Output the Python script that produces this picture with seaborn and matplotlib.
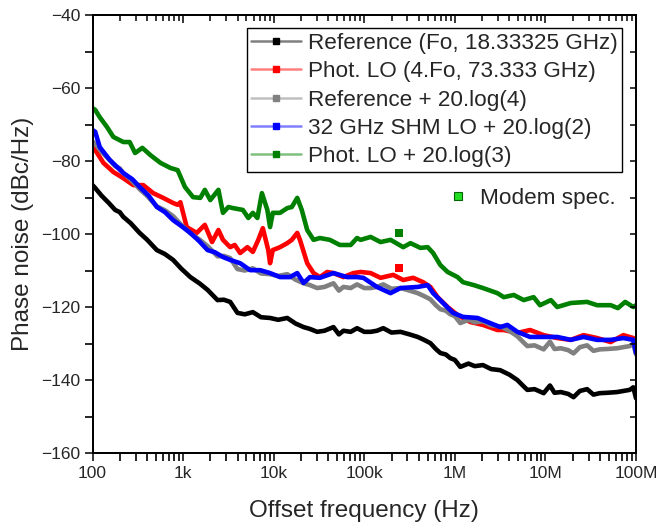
import numpy as np
import pandas as pd
import matplotlib
matplotlib.use("Agg")
import matplotlib.pyplot as plt
from matplotlib.lines import Line2D
import seaborn as sns

# offset frequency as log10(Hz), phase noise in dBc/Hz
ref_logf = [2.00, 2.03, 2.10, 2.18, 2.25, 2.30, 2.34, 2.42, 2.52, 2.60, 2.71, 2.80, 2.89, 2.98,
            3.08, 3.18, 3.27, 3.38, 3.45, 3.52, 3.60, 3.68, 3.77, 3.86, 3.96, 4.05, 4.15, 4.24,
            4.33, 4.40, 4.48, 4.56, 4.66, 4.72, 4.77, 4.85, 4.92, 5.00, 5.07, 5.14, 5.21, 5.30,
            5.40, 5.50, 5.59, 5.66, 5.73, 5.79, 5.84, 5.90, 5.95, 6.00, 6.06, 6.15, 6.22, 6.31,
            6.40, 6.50, 6.60, 6.69, 6.75, 6.80, 6.88, 6.98, 7.05, 7.10, 7.17, 7.25, 7.31, 7.38,
            7.46, 7.53, 7.60, 7.68, 7.79, 7.86, 7.93, 7.97, 8.00]
ref_pn = [-86.6, -87.4, -89.5, -91.5, -93.4, -94.0, -95.3, -97.0, -99.7, -101.5, -104.4, -105.5,
          -107.1, -109.5, -111.8, -113.5, -115.3, -118.1, -118.0, -118.6, -121.6, -122.0, -121.4,
          -122.8, -123.0, -123.5, -123.0, -124.5, -125.5, -126.0, -126.8, -126.5, -125.5, -127.5,
          -126.5, -126.8, -125.8, -126.8, -126.8, -126.5, -125.8, -127.0, -126.8, -127.5, -128.2,
          -129.0, -129.9, -131.5, -132.6, -133.0, -134.0, -134.5, -136.4, -135.5, -136.2, -135.9,
          -137.0, -137.3, -138.5, -140.0, -141.5, -142.7, -142.5, -143.6, -141.5, -143.5, -143.3,
          -143.8, -144.7, -143.0, -142.5, -144.0, -143.6, -143.5, -143.3, -143.0, -142.7, -142.0,
          -145.0]

phot_logf = [2.00, 2.03, 2.12, 2.23, 2.34, 2.45, 2.56, 2.67, 2.78, 2.89, 2.94, 2.97, 3.04, 3.15,
             3.24, 3.32, 3.39, 3.44, 3.52, 3.57, 3.63, 3.71, 3.77, 3.83, 3.88, 3.94, 3.96, 3.99,
             4.07, 4.15, 4.20, 4.26, 4.29, 4.37, 4.44, 4.51, 4.59, 4.66, 4.77, 4.88, 4.96, 5.07,
             5.18, 5.32, 5.43, 5.54, 5.65, 5.73, 5.81, 5.92, 6.03, 6.17, 6.31, 6.47, 6.54, 6.69,
             6.83, 6.98, 7.13, 7.28, 7.42, 7.57, 7.72, 7.86, 7.97, 8.00]
phot_pn = [-76.0, -77.0, -80.5, -83.0, -84.7, -86.6, -86.6, -88.8, -90.1, -91.5, -92.0, -91.3,
           -98.1, -99.7, -97.5, -102.2, -98.9, -101.6, -103.6, -103.0, -105.2, -103.6, -104.9,
           -101.6, -98.4, -104.4, -108.0, -104.4, -103.6, -102.5, -101.6, -99.7, -101.6, -108.0,
           -110.7, -111.8, -110.4, -110.7, -111.8, -110.7, -110.4, -110.7, -112.0, -111.2, -112.6,
           -112.0, -113.2, -114.5, -117.3, -120.0, -122.2, -124.1, -124.9, -126.3, -126.3, -127.1,
           -126.3, -127.7, -128.5, -129.0, -127.7, -128.5, -129.6, -127.7, -128.5, -129.0]

refx4_logf = ref_logf
refx4_pn = [-74.6, -75.4, -77.5, -79.5, -81.4, -82.0, -83.3, -85.0, -87.7, -89.5, -92.4, -93.5,
            -95.1, -97.5, -99.8, -101.5, -103.3, -106.1, -106.0, -106.6, -109.6, -110.0, -109.4,
            -110.8, -111.0, -111.5, -111.0, -112.5, -113.5, -114.0, -114.8, -114.5, -113.5, -115.5,
            -114.5, -114.8, -113.8, -114.8, -114.8, -114.5, -113.8, -115.0, -114.8, -115.5, -116.2,
            -117.0, -117.9, -119.5, -120.6, -121.0, -122.0, -122.5, -124.4, -123.5, -124.2, -123.9,
            -125.0, -125.3, -126.5, -128.0, -129.5, -130.7, -130.5, -131.6, -129.5, -131.5, -131.3,
            -131.8, -132.7, -131.0, -130.5, -132.0, -131.6, -131.5, -131.3, -131.0, -130.7, -130.0,
            -133.0]

shm_logf = [2.00, 2.03, 2.08, 2.19, 2.34, 2.44, 2.52, 2.62, 2.71, 2.80, 2.89, 2.98, 3.08, 3.18,
            3.27, 3.35, 3.44, 3.52, 3.63, 3.74, 3.85, 3.96, 4.07, 4.18, 4.26, 4.33, 4.40, 4.51,
            4.66, 4.81, 4.92, 4.99, 5.14, 5.29, 5.40, 5.59, 5.70, 5.76, 5.87, 5.98, 6.09, 6.25,
            6.39, 6.50, 6.58, 6.69, 6.83, 6.98, 7.13, 7.28, 7.42, 7.57, 7.72, 7.86, 7.97, 8.00]
shm_pn = [-71.5, -72.0, -76.2, -79.7, -83.3, -85.0, -87.1, -89.5, -92.6, -94.0, -96.2, -97.8,
          -99.7, -102.0, -104.4, -105.0, -106.3, -107.1, -108.0, -109.9, -109.9, -110.7, -111.8,
          -111.8, -110.7, -113.4, -111.8, -112.0, -110.7, -111.8, -111.8, -112.0, -114.5, -116.2,
          -114.8, -114.5, -114.0, -116.2, -118.9, -121.6, -122.7, -123.0, -124.4, -125.5, -124.9,
          -126.8, -128.2, -128.2, -128.2, -129.0, -128.2, -129.0, -129.0, -128.5, -129.0, -132.6]

photx3_logf = [2.00, 2.03, 2.08, 2.16, 2.23, 2.34, 2.41, 2.47, 2.55, 2.64, 2.75, 2.86, 2.94, 3.02,
               3.11, 3.19, 3.24, 3.30, 3.39, 3.44, 3.50, 3.55, 3.66, 3.72, 3.77, 3.82, 3.87, 3.93,
               3.96, 3.99, 4.07, 4.15, 4.20, 4.26, 4.31, 4.37, 4.44, 4.51, 4.62, 4.73, 4.85, 4.92,
               4.96, 5.07, 5.18, 5.29, 5.43, 5.51, 5.62, 5.70, 5.76, 5.84, 5.92, 6.03, 6.09, 6.21,
               6.31, 6.47, 6.54, 6.65, 6.76, 6.87, 6.94, 7.06, 7.13, 7.28, 7.46, 7.57, 7.72, 7.80,
               7.88, 7.97, 8.00]
photx3_pn = [-65.5, -66.0, -68.0, -70.7, -73.4, -74.8, -74.8, -77.8, -76.4, -78.4, -80.5, -81.9,
             -82.5, -87.1, -89.9, -90.1, -87.9, -90.7, -87.9, -94.2, -92.6, -92.9, -93.4, -95.6,
             -94.2, -95.6, -88.8, -93.4, -98.1, -94.2, -94.2, -92.9, -92.6, -90.1, -93.4, -98.9,
             -101.6, -101.1, -101.6, -103.0, -103.0, -101.1, -101.6, -100.8, -102.2, -101.6,
             -103.6, -102.5, -103.8, -103.6, -105.2, -108.5, -110.4, -111.8, -113.2, -114.0,
             -114.8, -116.2, -117.3, -116.7, -118.1, -117.3, -119.5, -118.1, -120.0, -118.9,
             -118.6, -119.5, -119.5, -120.3, -118.6, -120.0, -119.5]

# lone spur points sitting above the traces near 250 kHz
spur_logf = [5.38, 5.38]
spur_pn = [-109.3, -99.7]
spur_series = ["Phot. LO (4.Fo, 73.333 GHz)", "Phot. LO + 20.log(3)"]

labels = ["Reference (Fo, 18.33325 GHz)", "Phot. LO (4.Fo, 73.333 GHz)",
          "Reference + 20.log(4)", "32 GHz SHM LO + 20.log(2)", "Phot. LO + 20.log(3)"]
colors = ["#000000", "#ff0000", "#808080", "#0000ff", "#008000"]
xtick_labels = ["100", "1k", "10k", "100k", "1M", "10M", "100M"]

frames = []
for lab, lf, pn in zip(labels,
                       [ref_logf, phot_logf, refx4_logf, shm_logf, photx3_logf],
                       [ref_pn, phot_pn, refx4_pn, shm_pn, photx3_pn]):
    frames.append(pd.DataFrame({"freq": 10 ** np.array(lf), "pn": pn, "series": lab}))
df = pd.concat(frames, ignore_index=True)
spurs = pd.DataFrame({"freq": 10 ** np.array(spur_logf), "pn": spur_pn, "series": spur_series})

sns.set_style("ticks")
plt.rcParams["font.family"] = ["Liberation Sans", "DejaVu Sans"]

fig = plt.figure(figsize=(6.58, 5.25), dpi=100)
ax = fig.add_axes([0.1406, 0.1371, 0.8260, 0.8343])

pal = dict(zip(labels, colors))
for lab in labels:
    sns.lineplot(data=df[df["series"] == lab], x="freq", y="pn", color=pal[lab],
                 linewidth=3.3, estimator=None, sort=False, ax=ax, legend=False)
sns.scatterplot(data=spurs, x="freq", y="pn", hue="series", palette=pal, marker="s",
                s=36, linewidth=0, ax=ax, legend=False)

xmajor = 10.0 ** np.arange(2, 9)
xminor = np.concatenate([d * np.arange(2, 10) for d in xmajor[:-1]])

ax.set_xscale("log")
ax.set_xlim(100, 1e8)
ax.set_ylim(-160, -40)

# inward ticks on top / right come from twin axes, created before styling the main axes
top = ax.twiny()
right = ax.twinx()

ax.set_xticks(xmajor)
ax.set_xticks(xminor, minor=True)
ax.set_xticklabels(xtick_labels)
ax.set_xticklabels([], minor=True)
ax.set_yticks(np.arange(-160, -39, 20))
ax.set_yticks(np.arange(-150, -40, 20), minor=True)
ax.tick_params(axis="both", which="major", direction="out", length=6, width=1.1,
               labelsize=12.5, pad=3, color="black", bottom=True, left=True)
ax.tick_params(axis="both", which="minor", direction="out", length=6, width=1.2,
               color="black", bottom=True, left=True)
for s in ax.spines.values():
    s.set_linewidth(1.2)
    s.set_color("black")

top.set_xscale("log")
top.set_xlim(ax.get_xlim())
top.set_xticks(xmajor)
top.set_xticks(xminor, minor=True)
top.set_xticklabels([])
top.set_xticklabels([], minor=True)
top.tick_params(which="major", direction="in", length=6, width=1.1, color="black")
top.tick_params(which="minor", direction="in", length=4, width=1.1, color="black")
right.set_ylim(ax.get_ylim())
right.set_yticks(np.arange(-160, -39, 10))
right.set_yticklabels([])
right.tick_params(direction="in", length=4, width=1.1, color="black")
for a in (top, right):
    for s in a.spines.values():
        s.set_linewidth(1.2)
        s.set_color("black")

ax.set_xlabel("Offset frequency (Hz)", fontsize=17.5, labelpad=14)
ax.set_ylabel("Phase noise (dBc/Hz)", fontsize=17.5, labelpad=5)

handles = []
for c in colors:
    rgb = matplotlib.colors.to_rgb(c)
    handles.append(Line2D([], [], color=rgb + (0.5,), lw=1.8, marker="s", markersize=4,
                          markerfacecolor=c, markeredgecolor=c))
leg = right.legend(handles, labels, loc="upper right", bbox_to_anchor=(0.974, 0.970),
                   borderaxespad=0, fontsize=16.2, frameon=True, fancybox=False,
                   edgecolor="black", framealpha=1, handlelength=2.2, handletextpad=0.3,
                   labelspacing=0.33, borderpad=0.2)
leg.get_frame().set_linewidth(1.0)
right.add_artist(leg)

modem = Line2D([], [], lw=0, marker="s", markersize=6, markerfacecolor="#22dd22",
               markeredgecolor="#006400", markeredgewidth=0.8)
right.legend([modem], ["Modem spec."], loc="upper left", bbox_to_anchor=(0.635, 0.625),
             borderaxespad=0, fontsize=16.2, frameon=False, handlelength=1.0,
             handletextpad=0.5)

fig.savefig("out.png", dpi=100)
